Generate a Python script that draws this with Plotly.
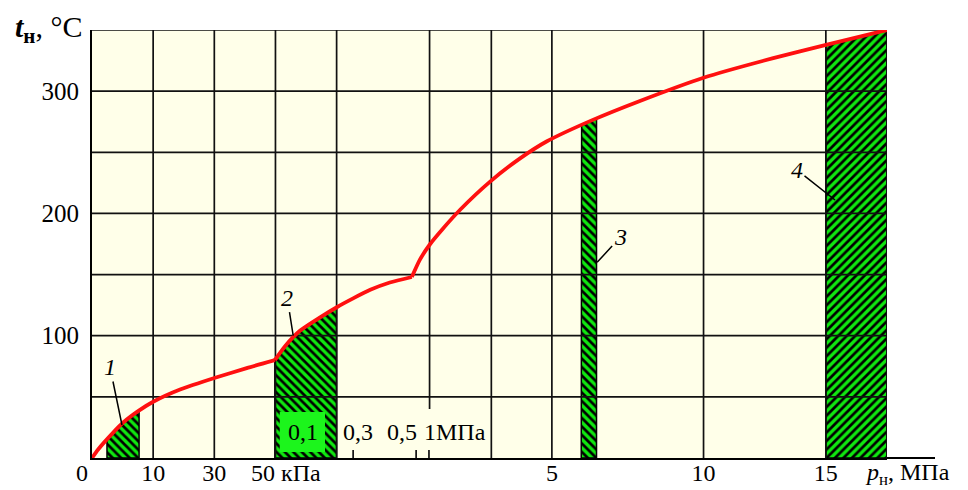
import numpy as np
import plotly.graph_objects as go

# ---- data (x is the schematic position on the piecewise pressure scale) ----
curve_u = [0, 0.1, 0.35, 0.51, 0.76, 1.0, 1.44, 2.04, 2.53, 2.99,
           3.16, 3.40, 3.73, 4.01, 4.27, 4.55, 4.87, 5.23,
           5.36, 5.53, 5.72, 6.02, 6.51, 7.0, 7.44, 8.19, 8.96, 10.0, 11.14, 12.02, 13.0]
curve_t = [0, 7, 21, 29, 38.5, 46, 56, 66, 73.5, 80,
           91.6, 104, 115, 123.5, 130.5, 137.5, 143.5, 148,
           162, 175, 186.5, 203, 226, 245, 259, 276.5, 292, 311, 327, 338, 350]
# positions where the scale changes (sharp bends of the curve)
kink_u = [2.99, 5.23]

zone_names = ["1", "2", "3", "4"]
zone_start = [0.245, 2.99, 8.0, 12.0]
zone_end = [0.77, 4.0, 8.25, 13.0]
zone_hatch = ["\\", "\\", "\\", "/"]
# leader anchor point (position, temp) and label offset (px)
zone_anchor_u = [0.49, 3.29, 8.26, 12.15]
zone_anchor_t = [27, 100, 160, 211]
zone_label_dx = [-12, -6, 23, -38]
zone_label_dy = [-58, -38, -25, -30]

x_tick_pos = [1, 2, 3.17, 7.52, 10, 12]
x_tick_text = ["10", "30", "50 кПа", "5", "10", "15"]
y_tick_pos = [100, 200, 300]

inner_label_pos = [3.45, 4.35, 5.07, 5.94]
inner_label_text = ["0,1", "0,3", "0,5", "1МПа"]
inner_label_t = 21
small_tick_pos = [4.27, 5.30, 5.51]

grid_t = [50, 100, 150, 200, 250, 300]
grid_u = [1, 2, 3, 4, 6.53, 7.52, 10, 12]
mpa1_u = 5.52

X_MAX = 13.0
T_MAX = 350

FONT = "Liberation Serif"
GREEN = "#10E610"
BG = "#FFFFE9"

# page body has an 8px margin: compensate so the plot area sits at x 92..887, y 30..458
L, T, PW, PH = 84, 22, 795, 428
W, H = 968, 490

fig = go.Figure()

# zones (hatched)
for s, e, h in zip(zone_start, zone_end, zone_hatch):
    us = np.linspace(s, e, 40)
    ts = np.interp(us, curve_u, curve_t)
    xs = [s] + list(us) + [e, s]
    ys = [0] + list(ts) + [0, 0]
    fig.add_trace(go.Scatter(
        x=xs, y=ys, mode="lines", fill="toself",
        fillcolor=GREEN,
        fillpattern=dict(shape=h, fgcolor="black", bgcolor=GREEN, size=6, solidity=0.45),
        line=dict(color="black", width=1.5), hoverinfo="skip", showlegend=False))

# grid
gx, gy = [], []
for t in grid_t:
    gx += [0, X_MAX, None]
    gy += [t, t, None]
for u in grid_u:
    gx += [u, u, None]
    gy += [0, T_MAX, None]
gx += [mpa1_u, mpa1_u, None]
gy += [40, T_MAX, None]
for u in small_tick_pos:
    gx += [u, u, None]
    gy += [0, 6.5, None]
# frame top/right
gx += [0, X_MAX, X_MAX]
gy += [T_MAX, T_MAX, 0]
fig.add_trace(go.Scatter(x=gx, y=gy, mode="lines", line=dict(color="#111", width=1.7),
                         hoverinfo="skip", showlegend=False, cliponaxis=False))

# curve, drawn as smooth pieces between the scale breaks
cu = np.array(curve_u)
ct = np.array(curve_t)
bounds = [0.0] + kink_u + [X_MAX]
for a, b in zip(bounds[:-1], bounds[1:]):
    m = (cu >= a) & (cu <= b)
    fig.add_trace(go.Scatter(x=cu[m], y=ct[m], mode="lines",
                             line=dict(color="#FF1010", width=3.8, shape="spline", smoothing=0.6),
                             hoverinfo="skip", showlegend=False, cliponaxis=False))

shapes = [
    dict(type="rect", xref="x", yref="y", x0=0, x1=X_MAX, y0=0, y1=T_MAX,
         fillcolor=BG, line=dict(width=0), layer="below"),
    dict(type="rect", xref="x", yref="y", x0=3.07, x1=3.81, y0=4.9, y1=37.6,
         fillcolor="#1CF51C", line=dict(width=0), layer="above"),
    dict(type="line", xref="paper", yref="paper", x0=1, x1=1 + 48 / PW, y0=0, y1=0,
         line=dict(color="black", width=2)),
]

annotations = []
for name, au, at, dx, dy in zip(zone_names, zone_anchor_u, zone_anchor_t, zone_label_dx, zone_label_dy):
    annotations.append(dict(x=au, y=at, xref="x", yref="y", text="<i>%s</i>" % name,
                            showarrow=True, arrowhead=0, arrowwidth=1.5, arrowcolor="black",
                            ax=dx, ay=dy, font=dict(family=FONT, size=24, color="black")))
for u, txt in zip(inner_label_pos, inner_label_text):
    annotations.append(dict(x=u, y=inner_label_t, xref="x", yref="y", text=txt, showarrow=False,
                            yanchor="middle",
                            font=dict(family=FONT, size=24, color="black")))
annotations += [
    dict(x=-10 / PW, y=-15 / PH, xref="paper", yref="paper", text="0", showarrow=False,
         xanchor="center", yanchor="middle",
         font=dict(family=FONT, size=24, color="black")),
    dict(x=(863 - 92) / PW, y=-16 / PH, xref="paper", yref="paper",
         text="<i>p</i><sub>н</sub>, МПа", showarrow=False, xanchor="left", yanchor="middle",
         font=dict(family=FONT, size=24, color="black")),
    dict(x=-8 / PW, y=1 + 1 / PH, xref="paper", yref="paper", xanchor="right", yanchor="middle",
         text="<b><i>t</i></b><sub><b>н</b></sub>, °C", showarrow=False,
         font=dict(family=FONT, size=30, color="black")),
]

fig.update_layout(
    template="none",
    width=W, height=H,
    margin=dict(l=L, r=W - L - PW, t=T, b=H - T - PH, pad=0, autoexpand=False),
    paper_bgcolor="white", plot_bgcolor="white",
    shapes=shapes, annotations=annotations,
    xaxis=dict(range=[0, X_MAX], tickvals=x_tick_pos, ticktext=x_tick_text, automargin=False,
               showgrid=False, zeroline=False, showline=True, linecolor="black", linewidth=2,
               ticks="", ticklabelstandoff=-8,
               tickfont=dict(family=FONT, size=24, color="black")),
    yaxis=dict(range=[0, T_MAX], tickvals=y_tick_pos, showgrid=False, zeroline=False,
               automargin=False,
               showline=True, linecolor="black", linewidth=2, ticks="",
               ticklabelstandoff=6, tickfont=dict(family=FONT, size=25, color="black")),
)

fig.write_html("out.html")
